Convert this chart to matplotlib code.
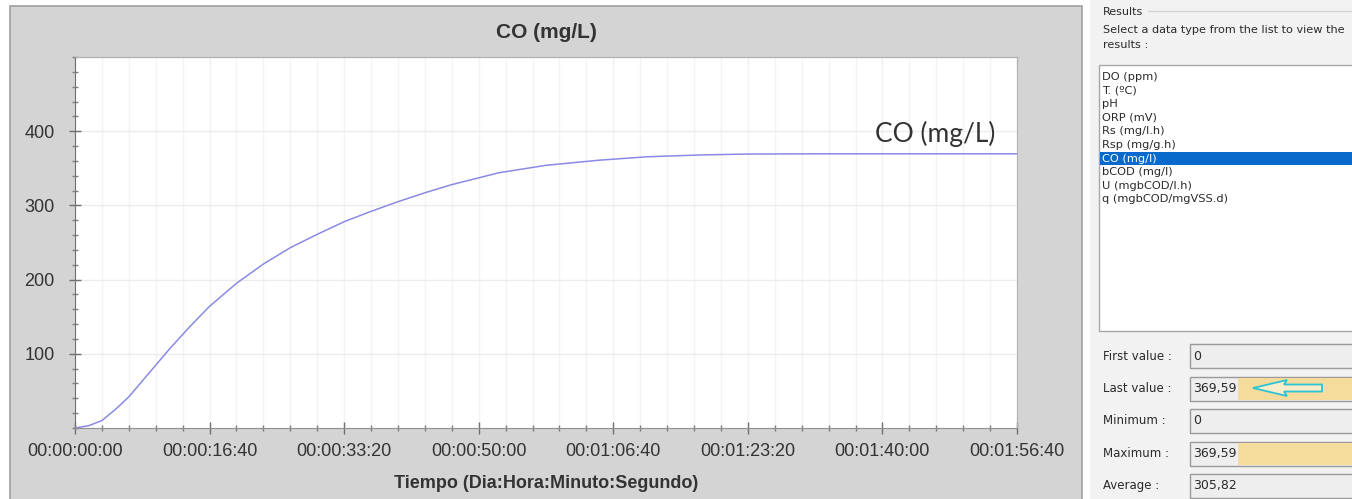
import matplotlib
matplotlib.use("Agg")
import matplotlib.pyplot as plt
from matplotlib.ticker import MultipleLocator, FuncFormatter
from matplotlib.patches import Rectangle, Polygon

# simulation output, CO (mg/L) vs time in seconds
time_s = [0, 100, 200, 300, 400, 550, 700, 850, 1000, 1200, 1400, 1600, 1800,
          2000, 2200, 2400, 2600, 2800, 3150, 3500, 3900, 4250, 4650, 5000,
          5500, 6000, 7000]
co_mgl = [0, 3, 10, 25, 42, 74, 106, 136, 164, 195, 221, 243, 261,
          278, 292, 305, 317, 328, 344, 354, 361, 365.5, 368, 369.2,
          369.5, 369.59, 369.59]

list_items = ["DO (ppm)", "T. (ºC)", "pH", "ORP (mV)", "Rs (mg/l.h)",
              "Rsp (mg/g.h)", "CO (mg/l)", "bCOD (mg/l)", "U (mgbCOD/l.h)",
              "q (mgbCOD/mgVSS.d)"]
selected = "CO (mg/l)"
stat_labels = ["First value :", "Last value :", "Minimum :", "Maximum :", "Average :"]
stat_values = ["0", "369,59", "0", "369,59", "305,82"]
stat_marked = [False, True, False, True, False]

W, H = 1352, 499
fig = plt.figure(figsize=(W / 100, H / 100), dpi=100)
fig.patch.set_facecolor("white")

# background "window" drawn in pixel coords
bg = fig.add_axes([0, 0, 1, 1], zorder=0)
bg.set_xlim(0, W)
bg.set_ylim(H, 0)
bg.axis("off")

bg.add_patch(Rectangle((10, 6), 1072, 500, facecolor="#d4d4d4", edgecolor="#a0a0a0", lw=1.2))
bg.add_patch(Rectangle((1090, 0), 270, 500, facecolor="#f2f2f2", edgecolor="none"))

pfont = dict(family="DejaVu Sans", color="#2a2a2a")
bg.text(1103, 12, "Results", fontsize=8, va="center", **pfont)
bg.plot([1148, W], [11, 11], color="#d6d6d6", lw=1)
bg.text(1103, 30, "Select a data type from the list to view the", fontsize=8.1, va="center", **pfont)
bg.text(1103, 45, "results :", fontsize=8.1, va="center", **pfont)

bg.add_patch(Rectangle((1099, 65), 270, 266, facecolor="white", edgecolor="#a8a8a8", lw=1))
row_h = 13.6
for i, name in enumerate(list_items):
    yc = 77 + i * row_h
    col = "#2a2a2a"
    if name == selected:
        bg.add_patch(Rectangle((1100, yc - row_h / 2), 260, row_h, facecolor="#0a6acc", edgecolor="none"))
        col = "white"
    bg.text(1102, yc, name, fontsize=8.2, va="center", family="DejaVu Sans", color=col)

for i, (lab, val, mark) in enumerate(zip(stat_labels, stat_values, stat_marked)):
    yc = 356 + i * 32.5
    bg.text(1103, yc, lab, fontsize=8.5, va="center", **pfont)
    bg.add_patch(Rectangle((1190, yc - 12), 180, 24, facecolor="#eeeeee", edgecolor="#9a9a9a", lw=1))
    if mark:
        bg.add_patch(Rectangle((1238, yc - 11), 130, 22, facecolor="#f5dc9c", edgecolor="none"))
    bg.text(1193, yc, val, fontsize=9, va="center", **pfont)

# cyan outline arrow pointing at the last value
ya = 388
arrow = [(1253, ya), (1287, ya - 8), (1284, ya - 3.5), (1322, ya - 3.5),
         (1322, ya + 3.5), (1284, ya + 3.5), (1287, ya + 8)]
bg.add_patch(Polygon(arrow, closed=True, facecolor="#f8edc8", edgecolor="#2cc4d4", lw=1.3))

# main chart
ax = fig.add_axes([75 / W, 1 - 428 / H, 942 / W, 371 / H], zorder=1)
ax.set_facecolor("white")
ax.plot(time_s, co_mgl, color="#8a8ae6", lw=1.1)
ax.set_xlim(0, 7000)
ax.set_ylim(0, 500)


def hms(x, pos):
    s = int(round(x))
    return "%02d:%02d:%02d:%02d" % (s // 86400, s // 3600 % 24, s // 60 % 60, s % 60)


ax.xaxis.set_major_locator(MultipleLocator(1000))
ax.xaxis.set_minor_locator(MultipleLocator(200))
ax.xaxis.set_major_formatter(FuncFormatter(hms))
ax.set_yticks([100, 200, 300, 400])
ax.yaxis.set_minor_locator(MultipleLocator(20))

ax.grid(True, axis="y", which="major", color="#ececec", lw=1)
ax.grid(True, axis="x", which="both", color="#f3f3f3", lw=1)
ax.set_axisbelow(True)

tfont = "Liberation Sans"
ax.tick_params(axis="both", which="major", direction="inout", length=9, width=1,
               color="#707070", labelsize=13, labelcolor="#333333")
ax.tick_params(axis="both", which="minor", direction="inout", length=4, width=1, color="#808080")
ax.tick_params(axis="x", which="major", pad=6)
ax.tick_params(axis="y", which="major", pad=10)
for lab in ax.get_xticklabels() + ax.get_yticklabels():
    lab.set_family(tfont)

top = ax.secondary_xaxis("top")
top.xaxis.set_major_locator(MultipleLocator(1000))
top.xaxis.set_minor_locator(MultipleLocator(200))
top.tick_params(which="major", direction="in", length=6, color="#808080", labeltop=False)
top.tick_params(which="minor", direction="in", length=3, color="#909090")
top.spines["top"].set_color("#b0b0b0")

for side, c in [("left", "#707070"), ("bottom", "#909090"), ("top", "#b0b0b0"), ("right", "#b0b0b0")]:
    ax.spines[side].set_color(c)

ax.set_title("CO (mg/L)", fontsize=15, fontweight="bold", family=tfont, color="#333333", pad=14)
ax.set_xlabel("Tiempo (Dia:Hora:Minuto:Segundo)", fontsize=13, fontweight="bold",
              family=tfont, color="#333333", labelpad=11)

ax.text(0.977, 0.792, "CO (mg/L)", transform=ax.transAxes, ha="right", va="center",
        fontsize=19, family="Lato", color="#333333")

fig.savefig("out.png", dpi=100)
